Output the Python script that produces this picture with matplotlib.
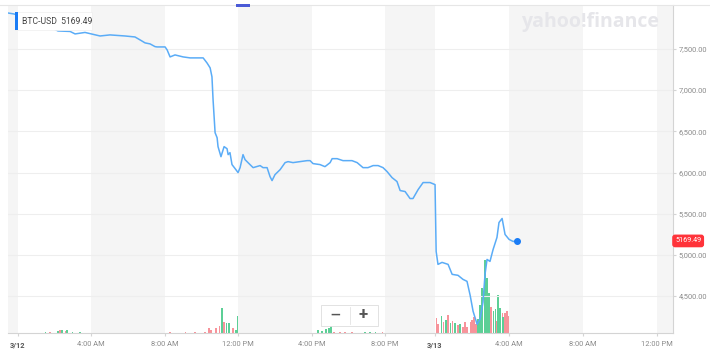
import matplotlib.pyplot as plt
from matplotlib.patches import Rectangle

plt.rcParams['font.family'] = ['Roboto', 'DejaVu Sans']

# hours since 3/12 00:00 (axis as drawn by the source chart)
price_hours = [-0.52, -0.19, 1.22, 2.20, 2.86, 3.13, 3.67, 4.49, 5.03, 5.85, 6.39, 6.67, 6.94, 7.21,
               7.48, 7.59, 7.86, 8.03, 8.14, 8.30, 8.57, 9.01, 9.39, 9.93, 10.10, 10.31, 10.48, 10.58,
               10.64, 10.75, 10.86, 10.91, 11.07, 11.24, 11.40, 11.46, 11.56, 11.67, 11.84, 12.00,
               12.11, 12.27, 12.38, 12.65, 12.82, 13.20, 13.36, 13.58, 13.74, 13.85, 14.01, 14.29,
               14.56, 14.72, 14.99, 15.37, 15.76, 15.92, 16.08, 16.46, 16.73, 17.01, 17.12, 17.39,
               17.71, 18.20, 18.48, 18.80, 19.07, 19.35, 19.62, 19.89, 20.11, 20.38, 20.65, 20.82,
               21.09, 21.36, 21.52, 21.80, 22.07, 22.45, 22.72, 22.78, 22.88, 23.10, 23.43, 23.65,
               23.97, 24.24, 24.46, 24.63, 24.79, 25.01, 25.17, 25.33, 25.44, 25.55, 25.71, 25.88,
               26.09, 26.20, 26.37, 26.53, 26.75, 26.97, 27.18]
price = [7936, 7924, 7827, 7718, 7712, 7682, 7700, 7657, 7670, 7657, 7645, 7609, 7573, 7561,
         7528, 7524, 7524, 7524, 7488, 7403, 7427, 7403, 7391, 7391, 7391, 7330, 7270, 7161,
         6883, 6483, 6422, 6314, 6192, 6314, 6289, 6217, 6241, 6096, 6047, 5999,
         6059, 6217, 6156, 6096, 6059, 6084, 6059, 6059, 5950, 5902, 5974, 6035,
         6120, 6132, 6120, 6132, 6144, 6144, 6108, 6096, 6071, 6120, 6168, 6168,
         6144, 6144, 6120, 6059, 6059, 6084, 6084, 6059, 6011, 5938, 5890, 5781,
         5769, 5684, 5684, 5793, 5878, 5878, 5853, 5042, 4885, 4909, 4885, 4764,
         4752, 4703, 4679, 4510, 4316, 4158, 4219, 4425, 4764, 4945, 4921, 5066,
         5212, 5393, 5442, 5248, 5188, 5163, 5169.49]

vol_hours = [1.50, 1.77, 2.20, 2.31, 2.42, 2.59, 2.69, 2.97, 3.40, 4.22, 4.33, 4.49, 4.65, 4.82,
             5.03, 5.58, 6.39, 6.50, 6.67, 6.83, 6.99, 7.16, 7.27, 7.43, 7.59, 7.76, 8.30, 9.12,
             9.66, 10.20, 10.42, 10.53, 10.80, 10.97, 11.13, 11.24, 11.35, 11.46, 11.51, 11.73,
             11.89, 12.00, 12.11, 12.22, 12.33, 12.44, 12.54, 12.65, 12.76, 12.87, 12.98, 13.09,
             13.20, 13.31, 13.47, 13.63, 13.80, 13.90, 14.01, 14.12, 14.23, 14.34, 14.45, 14.56,
             14.67, 14.78, 14.88, 14.99, 15.10, 15.21, 15.37, 15.54, 15.70, 15.92, 16.35, 16.57,
             16.79, 16.95, 17.06, 17.22, 17.55, 17.82, 18.20, 18.91, 19.18, 19.46, 19.84, 20.44,
             20.60, 20.92, 21.09, 21.47, 21.80, 21.91, 22.01, 22.18, 22.34, 22.56, 22.78, 22.88,
             23.05, 23.16, 23.32, 23.43, 23.54, 23.67, 23.81, 23.97, 24.08, 24.24, 24.35, 24.46,
             24.63, 24.73, 24.84, 24.95, 25.06, 25.17, 25.28, 25.39, 25.44, 25.55, 25.66, 25.77,
             25.88, 25.99, 26.09, 26.15, 26.26, 26.37, 26.42, 26.53, 26.64, 26.75, 26.86, 26.97]
volume = [1.5, 1, 2, 3, 3, 2, 3, 1, 1, 3, 4, 3, 3, 2,
          2, 1, 4, 6, 4, 5, 6, 6, 4, 5, 3, 2, 1, 1,
          1, 1, 5, 3, 5, 7, 25, 11, 10, 7, 10, 5,
          3, 17, 10, 6, 24, 6, 5, 5, 5, 4, 6, 4,
          3, 3, 2, 3, 4, 14, 6, 10, 5, 9, 6, 10,
          7, 8, 11, 7, 4, 5, 3, 3, 2, 1, 3, 2,
          4, 5, 8, 1, 1, 1, 1, 1, 1, 1, 1, 3,
          1, 13, 2, 4, 7, 12, 8, 10, 4, 2, 15, 9,
          17, 11, 13, 18, 10, 12, 10, 8, 9, 6, 11, 6,
          11, 13, 16, 9, 14, 28, 45, 60, 73, 55, 40, 26,
          22, 24, 12, 38, 25, 20, 16, 20, 22, 17, 13, 12]
# g = up interval, r = down interval
vol_dir = ''.join(['grgrgrgggrrgrg', 'rrrrgrgrrgrgrr', 'rrrrrrgrgrgr', 'ggrrgrrgrrgr',
                   'grrggggggggg', 'gggggggrgrgg', 'gggrrrrgggrr', 'rgrgggggrrrr',
                   'grgrgrgrgrrr', 'rrrrgggggggr', 'ggrggrgrrrrg'])

ytick_vals = [4500, 5000, 5500, 6000, 6500, 7000, 7500]
xtick_hours = [0, 4, 8, 12, 16, 20, 22.72, 26.75, 30.78, 34.8]
xtick_labels = ['3/12', '4:00 AM', '8:00 AM', '12:00 PM', '4:00 PM', '8:00 PM',
                '3/13', '4:00 AM', '8:00 AM', '12:00 PM']
bands = [(-0.52, 0), (4, 8), (12, 16), (20, 22.72), (26.75, 30.78), (34.8, 35.7)]

line_blue = '#5aacf7'
grey_txt = '#8a8a8a'

fig = plt.figure(figsize=(7.1, 3.5), dpi=100)
ax = fig.add_axes([8 / 710, 17 / 350, 665 / 710, 328 / 350])
ax.set_xlim(-0.52, 35.67)
ax.set_ylim(4052, 8033)

for a, b in bands:
    ax.axvspan(a, b, color='#f5f5f5', lw=0, zorder=0)
for v in ytick_vals:
    ax.axhline(v, color='#eeeeee', lw=0.8, zorder=1)

# volume on its own scale
vax = ax.twinx()
vax.set_ylim(0, 328)
vax.set_xlim(ax.get_xlim())
colors = ['#5ccf96' if c == 'g' else '#f7939a' for c in vol_dir]
vax.bar(vol_hours, volume, width=0.065, color=colors, lw=0, zorder=2)
vax.axis('off')

ax.set_zorder(vax.get_zorder() + 1)
ax.patch.set_visible(False)
ax.plot(price_hours, price, color=line_blue, lw=1.1, zorder=3)
ax.plot(price_hours[-1], price[-1], 'o', color='#1a7cf5', ms=4, zorder=4)

# axes style
for s in ['top', 'left']:
    ax.spines[s].set_visible(False)
ax.spines['right'].set_color('#d4d4d4')
ax.spines['bottom'].set_color('#d4d4d4')
ax.yaxis.tick_right()
ax.set_yticks(ytick_vals)
ax.set_yticklabels(['{:,.2f}'.format(v) for v in ytick_vals])
ax.set_xticks(xtick_hours)
ax.set_xticklabels(xtick_labels)
ax.tick_params(axis='both', labelsize=5.4, colors='#d4d4d4', labelcolor=grey_txt, length=2, pad=2)
ax.tick_params(axis='x', pad=4)
for lab in ax.get_xticklabels():
    if '/' in lab.get_text():
        lab.set_color('#555555')
        lab.set_fontweight('bold')

# current price tag
ax.annotate('5169.49', xy=(1.0, price[-1]), xycoords=('axes fraction', 'data'),
            xytext=(1.5, 0), textcoords='offset points', va='center', ha='left',
            fontsize=5.2, color='white',
            bbox=dict(boxstyle='round,pad=0.3', fc='#ff333a', ec='#ff333a'))

# watermark
fig.text(590 / 710, 1 - 22 / 350, 'yahoo!finance', ha='center', va='center', fontsize=14,
         fontweight='bold', color='#e6e6ea', family='Open Sans')

# legend tag top left
fig.patches.append(Rectangle((15 / 710, 1 - 30 / 350), 77 / 710, 18 / 350, transform=fig.transFigure,
                             fc='white', ec='#eeeeee', lw=0.5, zorder=5))
fig.patches.append(Rectangle((15 / 710, 1 - 30 / 350), 3 / 710, 18 / 350, transform=fig.transFigure,
                             fc='#1a7cf5', ec='none', zorder=6))
fig.text(22 / 710, 1 - 21 / 350, 'BTC-USD  5169.49', ha='left', va='center', fontsize=6.2,
         color='#444444', zorder=7)

# top border and range marker
fig.add_artist(plt.Line2D([0, 1], [1 - 5 / 350, 1 - 5 / 350], transform=fig.transFigure,
                          color='#e6e6e6', lw=0.8))
fig.patches.append(Rectangle((236 / 710, 1 - 7 / 350), 14 / 710, 3 / 350, transform=fig.transFigure,
                             fc='#4a5ad6', ec='none', zorder=8))

# zoom buttons
fig.patches.append(Rectangle((321 / 710, 1 - 326 / 350), 57 / 710, 21 / 350, transform=fig.transFigure,
                             fc='white', ec='#dddddd', lw=0.6, zorder=5))
fig.add_artist(plt.Line2D([349.5 / 710, 349.5 / 710], [1 - 324 / 350, 1 - 307 / 350],
                          transform=fig.transFigure, color='#e3e3e3', lw=0.6, zorder=6))
fig.text(335 / 710, 1 - 315 / 350, '\u2014', ha='center', va='center', fontsize=9,
         color='#555555', fontweight='bold', zorder=7)
fig.text(363 / 710, 1 - 315 / 350, '+', ha='center', va='center', fontsize=12,
         color='#555555', fontweight='bold', zorder=7)

plt.savefig('out.png', dpi=100)
